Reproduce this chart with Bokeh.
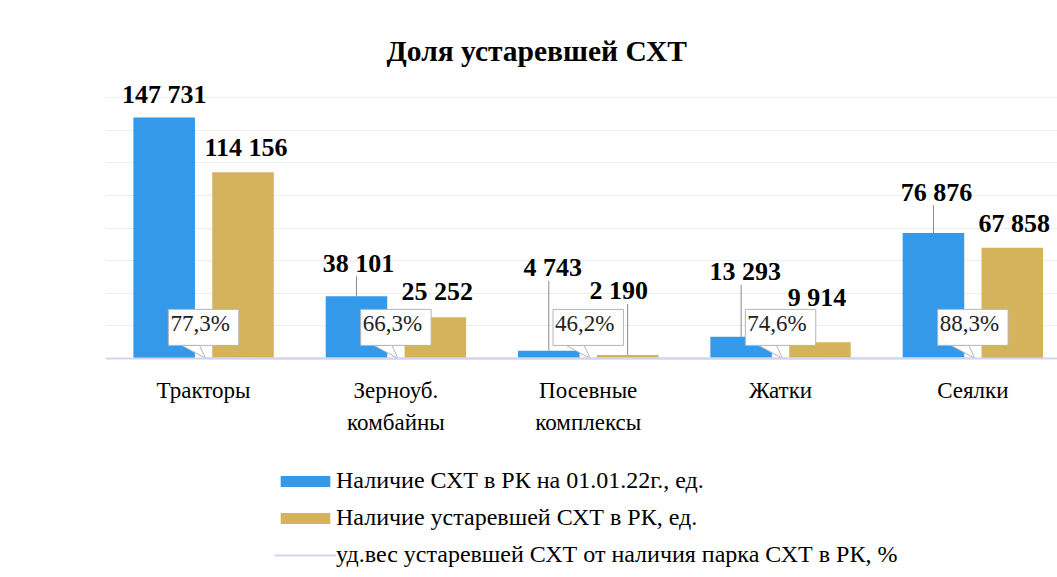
from bokeh.plotting import figure
from bokeh.models import (ColumnDataSource, LabelSet, Label, Range1d, FixedTicker,
                          Legend, LegendItem, Title, Span)
from bokeh.embed import file_html
from bokeh.resources import INLINE

# ---------------- data ----------------
categories = ["Тракторы", "Зерноуб.\nкомбайны", "Посевные\nкомплексы", "Жатки", "Сеялки"]
total_units = [147731, 38101, 4743, 13293, 76876]          # Наличие СХТ в РК на 01.01.22г., ед.
outdated_units = [114156, 25252, 2190, 9914, 67858]        # Наличие устаревшей СХТ в РК, ед.
outdated_share = [77.3, 66.3, 46.2, 74.6, 88.3]            # уд.вес устаревшей СХТ, %
grid_ticks = [20000, 40000, 60000, 80000, 100000, 120000, 140000, 160000]

series_names = ["Наличие СХТ в РК на 01.01.22г., ед.",
                "Наличие устаревшей СХТ в РК, ед.",
                "уд.вес устаревшей СХТ от наличия парка СХТ в РК, %"]
title_text = "Доля устаревшей СХТ"

# ---------------- label placement (styling, px) ----------------
total_lbl_dy = [23, 33, 83, 65, 41]
total_lbl_dx = [0, 2, 4, 4, 3]
total_leader = [False, True, True, True, True]
out_lbl_dy = [25, 26, 64, 45, 24]
out_lbl_dx = [3, 2, -9, -3, 2]
out_leader = [False, False, True, False, False]

BLUE = "#3399E8"
GOLD = "#D5B35D"
LAV = "#D4D4F0"
FONT = "Liberation Serif"

W, H = 1057, 577
BL, BT = 105, 71
BASE = 358                     # canvas y of the zero line
PX_PER_UNIT_Y = 261 / 160000   # vertical scale
XR = (-0.51, 4.44)
YR = (-(H - BASE) / PX_PER_UNIT_Y, (BASE - BT) / PX_PER_UNIT_Y)
px_x = (W - BL) / (XR[1] - XR[0])
u_y = 1 / PX_PER_UNIT_Y

pos = list(range(len(categories)))
fmt = lambda v: f"{v:,}".replace(",", " ")
pfmt = lambda v: f"{v:.1f}%".replace(".", ",")

src = ColumnDataSource(dict(
    x=pos,
    xb=[p - 0.205 for p in pos],
    xg=[p + 0.205 for p in pos],
    zero=[0] * len(pos),
    cat=categories,
    total=total_units,
    outdated=outdated_units,
    share=outdated_share,
    total_txt=[fmt(v) for v in total_units],
    out_txt=[fmt(v) for v in outdated_units],
    share_txt=[pfmt(v) for v in outdated_share],
    tdy=total_lbl_dy, tdx=total_lbl_dx,
    ody=out_lbl_dy, odx=out_lbl_dx,
))

p = figure(width=W, height=H, output_backend="svg", toolbar_location=None,
           x_range=Range1d(*XR), y_range=Range1d(*YR),
           min_border_left=BL, min_border_right=0, min_border_top=BT,
           min_border_bottom=0, background_fill_color="white",
           border_fill_color="white", outline_line_color=None)

p.title = Title(text=title_text, align="left", offset=281,
                text_font=FONT, text_font_size="29.5px", text_font_style="bold",
                text_color="black")

# axes / grid
p.xaxis.visible = False
p.yaxis.visible = False
p.xgrid.visible = False
p.ygrid.ticker = FixedTicker(ticks=grid_ticks)
p.ygrid.grid_line_color = "#EEEEEE"
p.add_layout(Span(location=0, dimension="width", line_color=LAV, line_width=2))

# category labels
p.text(x="x", y="zero", text="cat", source=src, y_offset=19,
       text_align="center", text_baseline="top", text_font=FONT,
       text_font_size="23px", text_color="black", text_line_height=1.3)

# bars
rb = p.vbar(x="xb", top="total", width=0.32, source=src, fill_color=BLUE, line_color=None)
rg = p.vbar(x="xg", top="outdated", width=0.32, source=src, fill_color=GOLD, line_color=None)
rl = p.line(x="x", y="share", source=src, line_color=LAV, line_width=2)

# leader lines
lx0, ly0, ly1 = [], [], []
for xs, vals, dys, flags in ((src.data["xb"], total_units, total_lbl_dy, total_leader),
                             (src.data["xg"], outdated_units, out_lbl_dy, out_leader)):
    for xv, v, dy, f in zip(xs, vals, dys, flags):
        if f:
            lx0.append(xv); ly0.append(v); ly1.append(v + (dy - 13) * u_y)
p.segment(x0=lx0, y0=ly0, x1=lx0, y1=ly1, line_color="#8A8A8A", line_width=1)

# callout tails
bb = 13 * u_y
txs = [[c - 22 / px_x, c - 4 / px_x, c + 2 / px_x] for c in pos]
tys = [[s + bb, s + bb, s] for s in outdated_share]
p.patches(xs=txs, ys=tys, fill_color="white", line_color="#B5B5B5", line_width=1)

# value labels
p.add_layout(LabelSet(x="xb", y="total", text="total_txt", source=src,
                      x_offset="tdx", y_offset="tdy", text_align="center",
                      text_baseline="middle", text_font=FONT, text_font_size="26px",
                      text_font_style="bold", text_color="black"))
p.add_layout(LabelSet(x="xg", y="outdated", text="out_txt", source=src,
                      x_offset="odx", y_offset="ody", text_align="center",
                      text_baseline="middle", text_font=FONT, text_font_size="26px",
                      text_font_style="bold", text_color="black"))

# percentage callouts
for xv, s, t in zip(pos, outdated_share, src.data["share_txt"]):
    p.add_layout(Label(x=xv, y=s, text=t, y_offset=31, text_align="center",
                       text_baseline="middle", text_font=FONT, text_font_size="23px",
                       text_color="#222222", background_fill_color="white",
                       border_line_color="#B5B5B5", border_line_width=1,
                       padding=(2, 9, 2, 9)))

legend = Legend(items=[LegendItem(label=series_names[0], renderers=[rb]),
                       LegendItem(label=series_names[1], renderers=[rg]),
                       LegendItem(label=series_names[2], renderers=[rl])],
                location=(169, 9), orientation="vertical",
                glyph_width=62, glyph_height=14, label_height=25, spacing=10,
                label_standoff=0, padding=0, margin=0,
                border_line_color=None, background_fill_alpha=0,
                label_text_font=FONT, label_text_font_size="24px",
                label_text_color="black")
p.add_layout(legend, "center")

open("out.html", "w").write(file_html(p, INLINE))
